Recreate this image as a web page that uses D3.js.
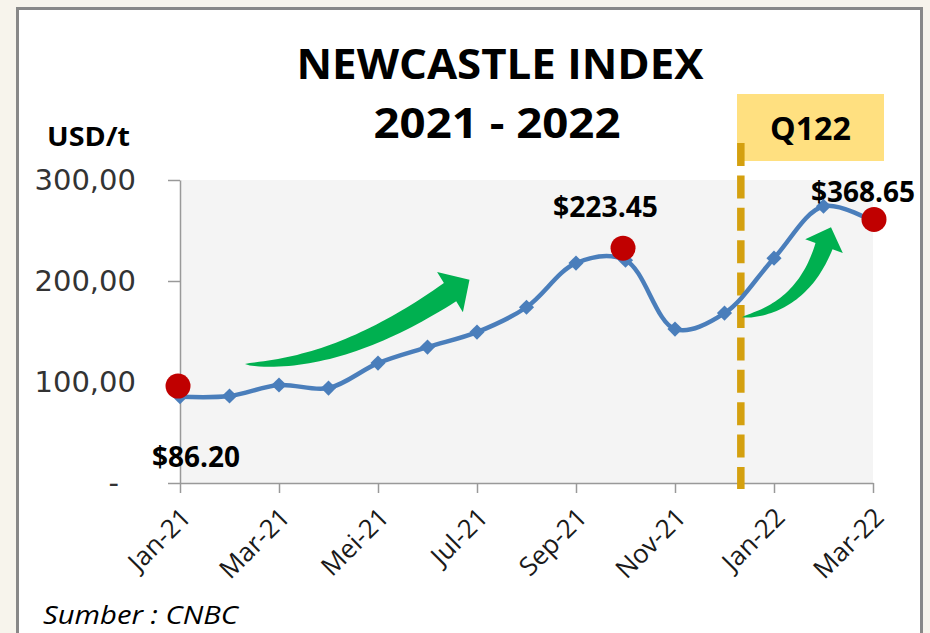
<!DOCTYPE html>
<html>
<head>
<meta charset="utf-8">
<script src="https://cdn.jsdelivr.net/npm/d3@7"></script>
<style>
  html, body { margin: 0; padding: 0; background: #f7f4ec; }
  svg { display: block; }
</style>
</head>
<body>
<svg id="chart"></svg>
<script>
// data (monthly index, plotted on the USD/t axis)
const months = ["Jan-21", "Feb-21", "Mar-21", "Apr-21", "Mei-21", "Jun-21", "Jul-21", "Agu-21",
                "Sep-21", "Okt-21", "Nov-21", "Des-21", "Jan-22", "Feb-22", "Mar-22"];
const values = [85.4, 86.1, 97, 94, 118.7, 134.6, 149.4, 174, 217.7, 220.6, 152.4, 168.2, 222.6, 274, 259];
const tickLabels = ["Jan-21", "Mar-21", "Mei-21", "Jul-21", "Sep-21", "Nov-21", "Jan-22", "Mar-22"];
const yTicks = [0, 100, 200, 300];

// red callout dots (month index, value) and their texts
const calloutMonths = [-0.04, 8.95, 14.02];
const calloutValues = [96, 232.5, 261];
const calloutLabels = ["$86.20", "$223.45", "$368.65"];

// start of Q1 2022 marker (month index)
const q122Month = 11.33;

// green trend arrows in data space: tail, control, head base, tip
const arrows = [
  { tail: [1.313, 117.7], ctrl: [3.212, 114.8], base: [5.455, 189], tip: [5.848, 201.3] },
  { tail: [11.354, 164.2], ctrl: [12.566, 173.1], base: [13.01, 234.5], tip: [13.152, 253.3] }
];

// constants
const width = 930;
const height = 633;
const plot = { left: 180, right: 873, top: 180, bottom: 483 };

const svg = d3.select('svg#chart').attr('width', width).attr('height', height);

// frame
svg.append("rect")
    .attr("x", 17.5).attr("y", 8.5)
    .attr("width", 904).attr("height", 700)
    .attr("fill", "#fff")
    .attr("stroke", "#888")
    .attr("stroke-width", 3);

const x = d3.scaleLinear().domain([0, months.length - 1]).range([plot.left, plot.right]);
const y = d3.scaleLinear().domain([0, 300]).range([plot.bottom, plot.top]);

// grey plot area
svg.append("rect")
    .attr("x", x(0)).attr("y", y(300))
    .attr("width", x(14) - x(0)).attr("height", y(0) - y(300))
    .attr("fill", "#f4f4f4");

// titles
const title = svg.append("g").attr("font-family", "'Open Sans', sans-serif").attr("font-weight", "bold").attr("fill", "#000");
title.append("text").attr("x", 500).attr("y", 79).attr("text-anchor", "middle")
    .attr("font-size", 41).attr("textLength", 407).attr("lengthAdjust", "spacingAndGlyphs")
    .text("NEWCASTLE INDEX");
title.append("text").attr("x", 497).attr("y", 138).attr("text-anchor", "middle")
    .attr("font-size", 42).attr("textLength", 247).attr("lengthAdjust", "spacingAndGlyphs")
    .text("2021 - 2022");
title.append("text").attr("x", 47).attr("y", 146)
    .attr("font-size", 26).attr("textLength", 83).attr("lengthAdjust", "spacingAndGlyphs")
    .text("USD/t");

// y axis
const comma = d3.formatLocale({ decimal: ",", thousands: ".", grouping: [3], currency: ["$", ""] });
const yAxis = svg.append("g")
    .attr("transform", "translate(" + plot.left + ",0)")
    .call(d3.axisLeft(y).tickValues(yTicks).tickSize(12).tickSizeOuter(0).tickPadding(32)
        .tickFormat(d => d === 0 ? "-" : comma.format(".2f")(d)));
yAxis.select(".domain").attr("stroke", "#999").attr("stroke-width", 1.5);
yAxis.selectAll(".tick line").attr("stroke", "#999").attr("stroke-width", 1.5);
yAxis.selectAll(".tick text")
    .attr("font-family", "'DejaVu Sans', sans-serif")
    .attr("font-size", 29)
    .attr("fill", "#333")
    .attr("dx", d => d === 0 ? -17 : 0);

// x axis
const xAxis = svg.append("g")
    .attr("transform", "translate(0," + plot.bottom + ")")
    .call(d3.axisBottom(x).tickValues(d3.range(0, 15, 2)).tickSize(10).tickSizeOuter(0)
        .tickFormat((d, i) => tickLabels[i]));
xAxis.select(".domain").attr("stroke", "#999").attr("stroke-width", 1.5);
xAxis.selectAll(".tick line").attr("stroke", "#999").attr("stroke-width", 1.5);
xAxis.selectAll(".tick text")
    .attr("font-family", "'Open Sans', sans-serif")
    .attr("font-size", 26)
    .attr("fill", "#1a1a1a")
    .attr("text-anchor", "end")
    .attr("x", 0).attr("y", 0).attr("dy", null)
    .attr("transform", "translate(12,36) rotate(-45)");

// Q122 box
svg.append("rect")
    .attr("x", 737).attr("y", 94)
    .attr("width", 147).attr("height", 67)
    .attr("fill", "#ffe080");

// Q1 2022 dashed marker
svg.append("line")
    .attr("x1", x(q122Month)).attr("x2", x(q122Month))
    .attr("y1", 143).attr("y2", 489)
    .attr("stroke", "#d4a00f")
    .attr("stroke-width", 7.5)
    .attr("stroke-dasharray", "23,9.4");

svg.append("text")
    .attr("x", 810.5).attr("y", 140)
    .attr("text-anchor", "middle")
    .attr("font-family", "'Open Sans', sans-serif")
    .attr("font-weight", "bold")
    .attr("font-size", 32)
    .attr("textLength", 81).attr("lengthAdjust", "spacingAndGlyphs")
    .text("Q122");

// the index line
const line = d3.line()
    .x((d, i) => x(i))
    .y(d => y(d))
    .curve(d3.curveCatmullRom.alpha(0.5));

svg.append("path")
    .datum(values)
    .attr("fill", "none")
    .attr("stroke", "#4a7ebb")
    .attr("stroke-width", 4.5)
    .attr("stroke-linejoin", "round")
    .attr("d", line);

svg.append("g")
    .attr("fill", "#4a7ebb")
  .selectAll("path")
  .data(values)
  .join("path")
    .attr("transform", (d, i) => "translate(" + x(i) + "," + y(d) + ") rotate(45)")
    .attr("d", d3.symbol(d3.symbolSquare, 115));

// green curved arrows
function arrowPath(a, bodyWidth, headHalf) {
  const T = [x(a.tail[0]), y(a.tail[1])];
  const C = [x(a.ctrl[0]), y(a.ctrl[1])];
  const H = [x(a.base[0]), y(a.base[1])];
  const P = [x(a.tip[0]), y(a.tip[1])];
  const upper = [], lower = [];
  const n = 40;
  for (let k = 0; k <= n; k++) {
    const s = k / n;
    const bx = (1 - s) * (1 - s) * T[0] + 2 * (1 - s) * s * C[0] + s * s * H[0];
    const by = (1 - s) * (1 - s) * T[1] + 2 * (1 - s) * s * C[1] + s * s * H[1];
    const tx = 2 * (1 - s) * (C[0] - T[0]) + 2 * s * (H[0] - C[0]);
    const ty = 2 * (1 - s) * (C[1] - T[1]) + 2 * s * (H[1] - C[1]);
    const len = Math.hypot(tx, ty);
    const nx = -ty / len, ny = tx / len;
    const hw = bodyWidth / 2 * Math.pow(s, 0.6);
    upper.push([bx + nx * hw, by + ny * hw]);
    lower.push([bx - nx * hw, by - ny * hw]);
  }
  const dx = P[0] - H[0], dy = P[1] - H[1];
  const dl = Math.hypot(dx, dy);
  const nx = -dy / dl, ny = dx / dl;
  const pts = upper
    .concat([[H[0] + nx * headHalf, H[1] + ny * headHalf], P, [H[0] - nx * headHalf, H[1] - ny * headHalf]])
    .concat(lower.reverse());
  return "M" + pts.map(p => p[0].toFixed(1) + "," + p[1].toFixed(1)).join("L") + "Z";
}

svg.append("g")
    .attr("fill", "#00b050")
  .selectAll("path")
  .data(arrows)
  .join("path")
    .attr("d", (d, i) => i === 0 ? arrowPath(d, 22, 24) : arrowPath(d, 18, 20));

// red callouts
const labelOffsets = [[18, 81], [-17.5, -31], [-11, -17]];
const labelLengths = [88, 105, 104];

svg.append("g")
    .attr("fill", "#c00000")
  .selectAll("circle")
  .data(calloutValues)
  .join("circle")
    .attr("cx", (d, i) => x(calloutMonths[i]))
    .attr("cy", d => y(d))
    .attr("r", 12.5);

svg.append("g")
    .attr("font-family", "'Open Sans', sans-serif")
    .attr("font-weight", "bold")
    .attr("font-size", 28)
    .attr("fill", "#000")
    .attr("text-anchor", "middle")
  .selectAll("text")
  .data(calloutLabels)
  .join("text")
    .attr("x", (d, i) => x(calloutMonths[i]) + labelOffsets[i][0])
    .attr("y", (d, i) => y(calloutValues[i]) + labelOffsets[i][1])
    .attr("textLength", (d, i) => labelLengths[i])
    .attr("lengthAdjust", "spacingAndGlyphs")
    .text(d => d);

// source
svg.append("text")
    .attr("x", 43).attr("y", 624)
    .attr("font-family", "'Open Sans', sans-serif")
    .attr("font-style", "italic")
    .attr("font-size", 26)
    .attr("fill", "#000")
    .attr("textLength", 195).attr("lengthAdjust", "spacingAndGlyphs")
    .text("Sumber : CNBC");
</script>
</body>
</html>
